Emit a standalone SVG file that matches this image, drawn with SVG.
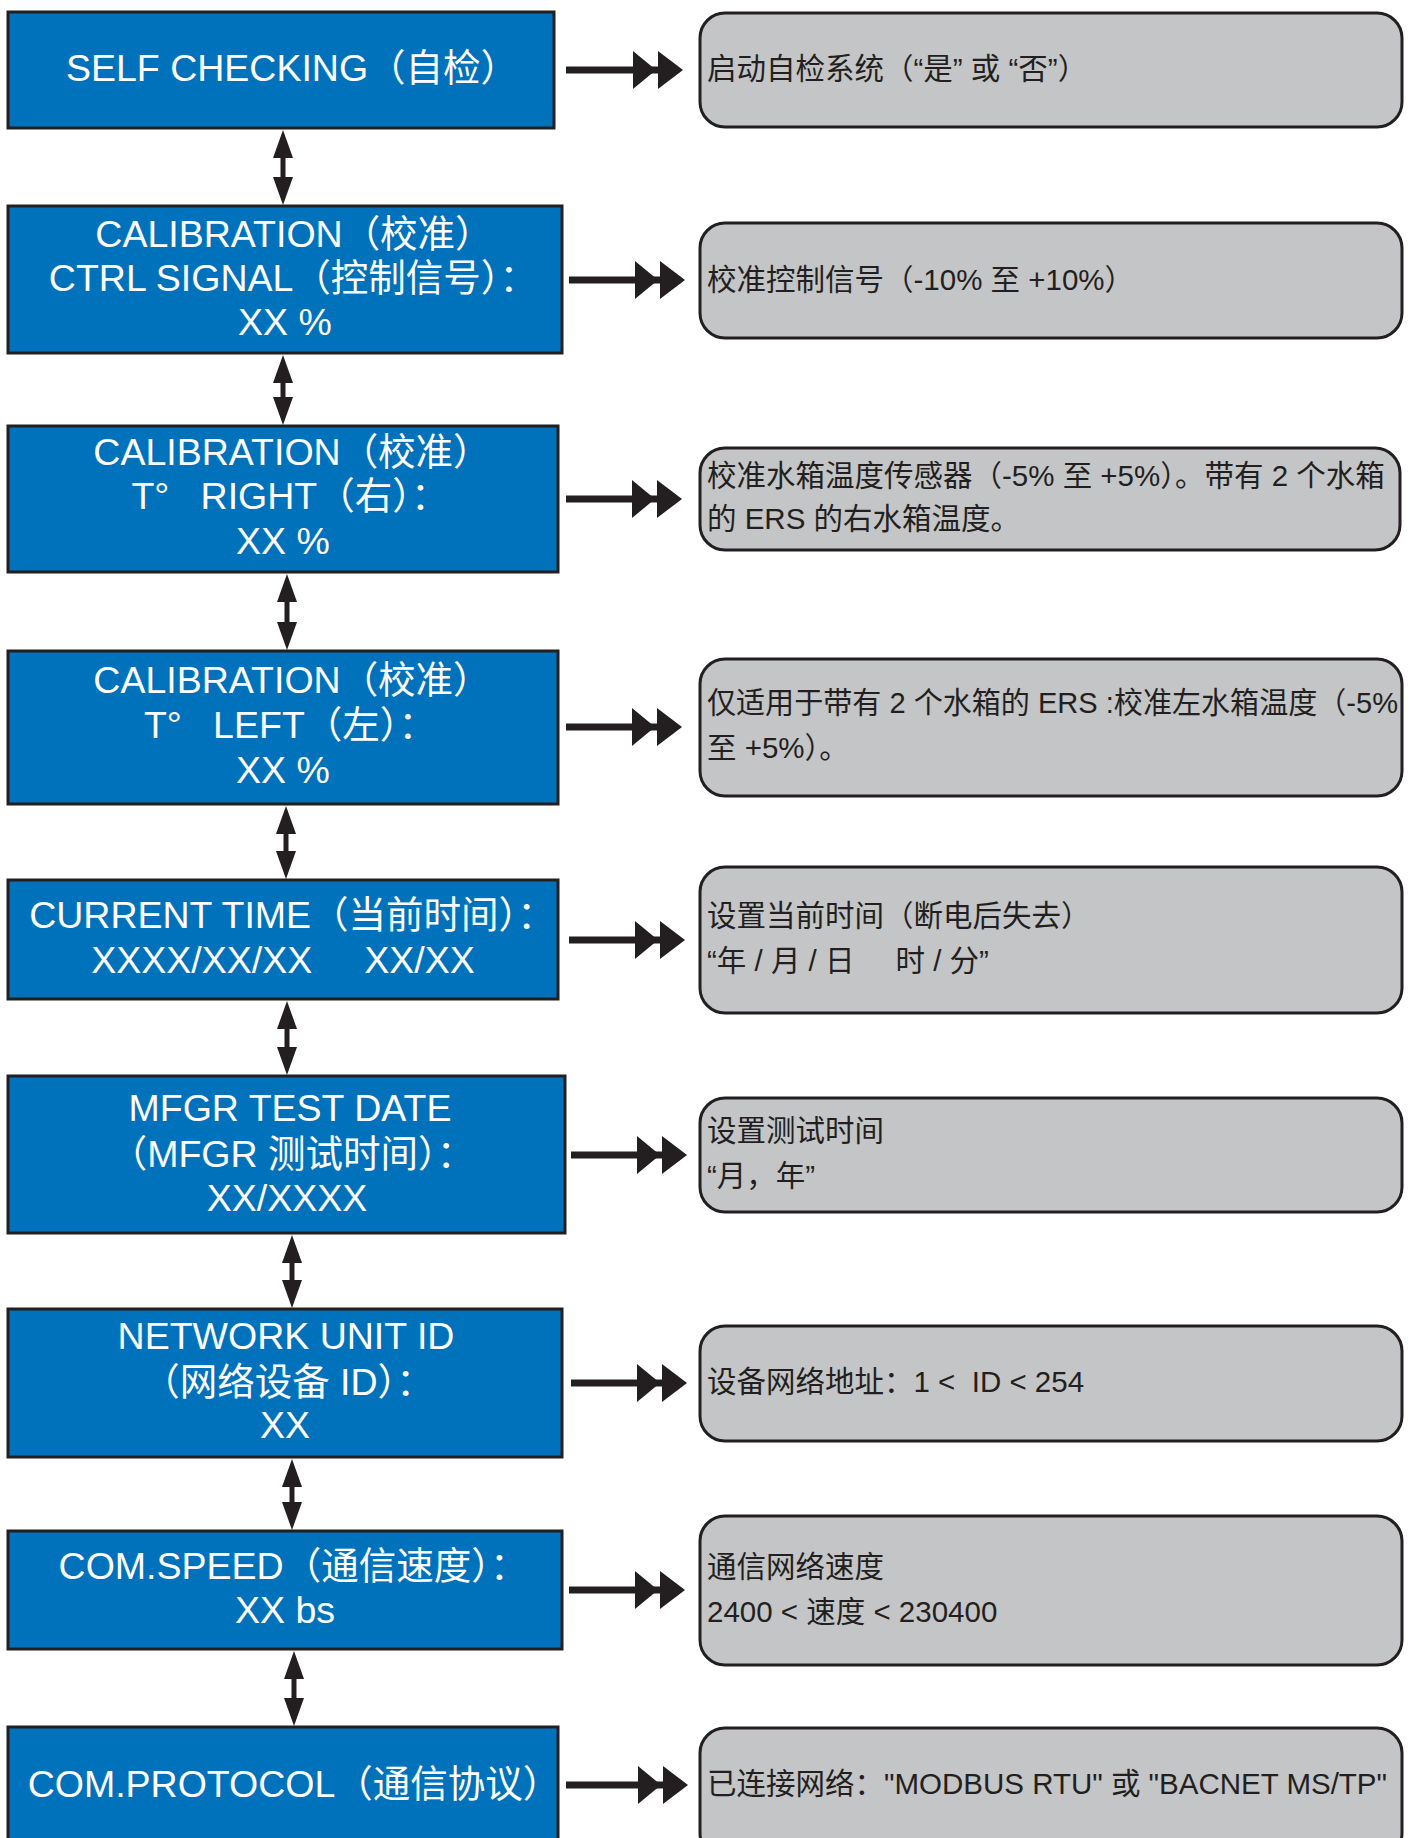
<svg xmlns="http://www.w3.org/2000/svg" xmlns:xlink="http://www.w3.org/1999/xlink" width="1415" height="1838" viewBox="0 0 1415 1838">
<style>
.blue{fill:#0072bb;stroke:#231f20;stroke-width:3}
.gray{fill:#c4c5c7;stroke:#231f20;stroke-width:3}
.lt{font-family:"Liberation Sans","Noto Sans CJK SC",sans-serif;font-size:37.5px;fill:#ffffff;text-anchor:middle}
.rt{font-family:"Liberation Sans","Noto Sans CJK SC",sans-serif;font-size:29.5px;fill:#231f20}
.shaft{stroke:#231f20;stroke-width:7;fill:none}
.vshaft{stroke:#231f20;stroke-width:5;fill:none}
.head{fill:#231f20}
</style>
<defs>
<g id="dbl">
<polygon class="head" points="-50,-19 -27,0 -50,19"/>
<polygon class="head" points="-25,-19 0,0 -25,19"/>
</g>
<polygon id="vup" class="head" points="0,0 -10,28 10,28"/>
<polygon id="vdn" class="head" points="0,0 -10,-28 10,-28"/>
</defs>
<rect width="1415" height="1838" fill="#ffffff"/>

<g id="n1"><rect class="blue" x="8" y="12" width="546" height="116"/>
<text class="lt" x="292" y="81">SELF CHECKING（自检）</text></g>
<g id="n2"><rect class="blue" x="8" y="206" width="554" height="147"/>
<text class="lt" x="294" y="247">CALIBRATION（校准）</text>
<text class="lt" x="293" y="291">CTRL SIGNAL（控制信号）：</text>
<text class="lt" x="285" y="335">XX %</text></g>
<g id="n3"><rect class="blue" x="8" y="426" width="550" height="146"/>
<text class="lt" x="292" y="465">CALIBRATION（校准）</text>
<text class="lt" x="290" y="509" xml:space="preserve">T°   RIGHT（右）：</text>
<text class="lt" x="283" y="554">XX %</text></g>
<g id="n4"><rect class="blue" x="8" y="651" width="550" height="153"/>
<text class="lt" x="292" y="693">CALIBRATION（校准）</text>
<text class="lt" x="290" y="738" xml:space="preserve">T°   LEFT（左）：</text>
<text class="lt" x="283" y="783">XX %</text></g>
<g id="n5"><rect class="blue" x="8" y="880" width="550" height="119"/>
<text class="lt" x="292" y="928">CURRENT TIME（当前时间）：</text>
<text class="lt" x="283" y="973" xml:space="preserve">XXXX/XX/XX     XX/XX</text></g>
<g id="n6"><rect class="blue" x="8" y="1076" width="557" height="157"/>
<text class="lt" x="290" y="1121">MFGR TEST DATE</text>
<text class="lt" x="292" y="1167">（MFGR 测试时间）：</text>
<text class="lt" x="287" y="1211">XX/XXXX</text></g>
<g id="n7"><rect class="blue" x="8" y="1309" width="554" height="148"/>
<text class="lt" x="286" y="1349">NETWORK UNIT ID</text>
<text class="lt" x="288" y="1395">（网络设备 ID）：</text>
<text class="lt" x="285" y="1438">XX</text></g>
<g id="n8"><rect class="blue" x="8" y="1531" width="554" height="118"/>
<text class="lt" x="293" y="1579">COM.SPEED（通信速度）：</text>
<text class="lt" x="285" y="1623">XX bs</text></g>
<g id="n9"><rect class="blue" x="8" y="1727" width="550" height="130"/>
<text class="lt" x="294" y="1797">COM.PROTOCOL（通信协议）</text></g>

<g id="d1"><rect class="gray" x="700" y="13" width="702" height="114" rx="25" ry="25"/>
<text class="rt" x="707" y="79">启动自检系统（“是” 或 “否”）</text></g>
<g id="d2"><rect class="gray" x="700" y="223" width="702" height="115" rx="25" ry="25"/>
<text class="rt" x="707" y="290">校准控制信号（-10% 至 +10%）</text></g>
<g id="d3"><rect class="gray" x="700" y="448" width="700" height="102" rx="25" ry="25"/>
<text class="rt" x="707" y="486">校准水箱温度传感器（-5% 至 +5%）。带有 2 个水箱</text>
<text class="rt" x="707" y="529">的 ERS 的右水箱温度。</text></g>
<g id="d4"><rect class="gray" x="700" y="659" width="702" height="137" rx="25" ry="25"/>
<text class="rt" x="707" y="713" textLength="691" lengthAdjust="spacingAndGlyphs">仅适用于带有 2 个水箱的 ERS :校准左水箱温度（-5%</text>
<text class="rt" x="707" y="758">至 +5%）。</text></g>
<g id="d5"><rect class="gray" x="700" y="867" width="702" height="146" rx="25" ry="25"/>
<text class="rt" x="707" y="926">设置当前时间（断电后失去）</text>
<text class="rt" x="707" y="971" xml:space="preserve">“年 / 月 / 日     时 / 分”</text></g>
<g id="d6"><rect class="gray" x="700" y="1098" width="702" height="114" rx="25" ry="25"/>
<text class="rt" x="707" y="1141">设置测试时间</text>
<text class="rt" x="707" y="1186">“月，年”</text></g>
<g id="d7"><rect class="gray" x="700" y="1326" width="702" height="115" rx="25" ry="25"/>
<text class="rt" x="707" y="1392" xml:space="preserve">设备网络地址：1 &lt;  ID &lt; 254</text></g>
<g id="d8"><rect class="gray" x="700" y="1516" width="702" height="149" rx="25" ry="25"/>
<text class="rt" x="707" y="1577">通信网络速度</text>
<text class="rt" x="707" y="1622">2400 &lt; 速度 &lt; 230400</text></g>
<g id="d9"><rect class="gray" x="700" y="1728" width="702" height="130" rx="25" ry="25"/>
<text class="rt" x="707" y="1794">已连接网络："MODBUS RTU" 或 "BACNET MS/TP"</text></g>

<g id="connectors">
<line class="shaft" x1="566" y1="70" x2="660" y2="70"/><use xlink:href="#dbl" transform="translate(683,70)"/>
<line class="shaft" x1="569" y1="280" x2="662" y2="280"/><use xlink:href="#dbl" transform="translate(685,280)"/>
<line class="shaft" x1="566" y1="499" x2="659" y2="499"/><use xlink:href="#dbl" transform="translate(682,499)"/>
<line class="shaft" x1="566" y1="727" x2="659" y2="727"/><use xlink:href="#dbl" transform="translate(682,727)"/>
<line class="shaft" x1="569" y1="940" x2="662" y2="940"/><use xlink:href="#dbl" transform="translate(685,940)"/>
<line class="shaft" x1="571" y1="1155" x2="664" y2="1155"/><use xlink:href="#dbl" transform="translate(687,1155)"/>
<line class="shaft" x1="571" y1="1383" x2="664" y2="1383"/><use xlink:href="#dbl" transform="translate(687,1383)"/>
<line class="shaft" x1="569" y1="1590" x2="662" y2="1590"/><use xlink:href="#dbl" transform="translate(685,1590)"/>
<line class="shaft" x1="566" y1="1785" x2="665" y2="1785"/><use xlink:href="#dbl" transform="translate(688,1785)"/>
<line class="vshaft" x1="283" y1="150" x2="283" y2="185"/><use xlink:href="#vup" transform="translate(283,130)"/><use xlink:href="#vdn" transform="translate(283,205)"/>
<line class="vshaft" x1="283" y1="375" x2="283" y2="405"/><use xlink:href="#vup" transform="translate(283,355)"/><use xlink:href="#vdn" transform="translate(283,425)"/>
<line class="vshaft" x1="287" y1="594" x2="287" y2="630"/><use xlink:href="#vup" transform="translate(287,574)"/><use xlink:href="#vdn" transform="translate(287,650)"/>
<line class="vshaft" x1="286" y1="826" x2="286" y2="859"/><use xlink:href="#vup" transform="translate(286,806)"/><use xlink:href="#vdn" transform="translate(286,879)"/>
<line class="vshaft" x1="287" y1="1021" x2="287" y2="1055"/><use xlink:href="#vup" transform="translate(287,1001)"/><use xlink:href="#vdn" transform="translate(287,1075)"/>
<line class="vshaft" x1="292" y1="1255" x2="292" y2="1288"/><use xlink:href="#vup" transform="translate(292,1235)"/><use xlink:href="#vdn" transform="translate(292,1308)"/>
<line class="vshaft" x1="292" y1="1479" x2="292" y2="1510"/><use xlink:href="#vup" transform="translate(292,1459)"/><use xlink:href="#vdn" transform="translate(292,1530)"/>
<line class="vshaft" x1="294" y1="1671" x2="294" y2="1706"/><use xlink:href="#vup" transform="translate(294,1651)"/><use xlink:href="#vdn" transform="translate(294,1726)"/>
</g>
</svg>
